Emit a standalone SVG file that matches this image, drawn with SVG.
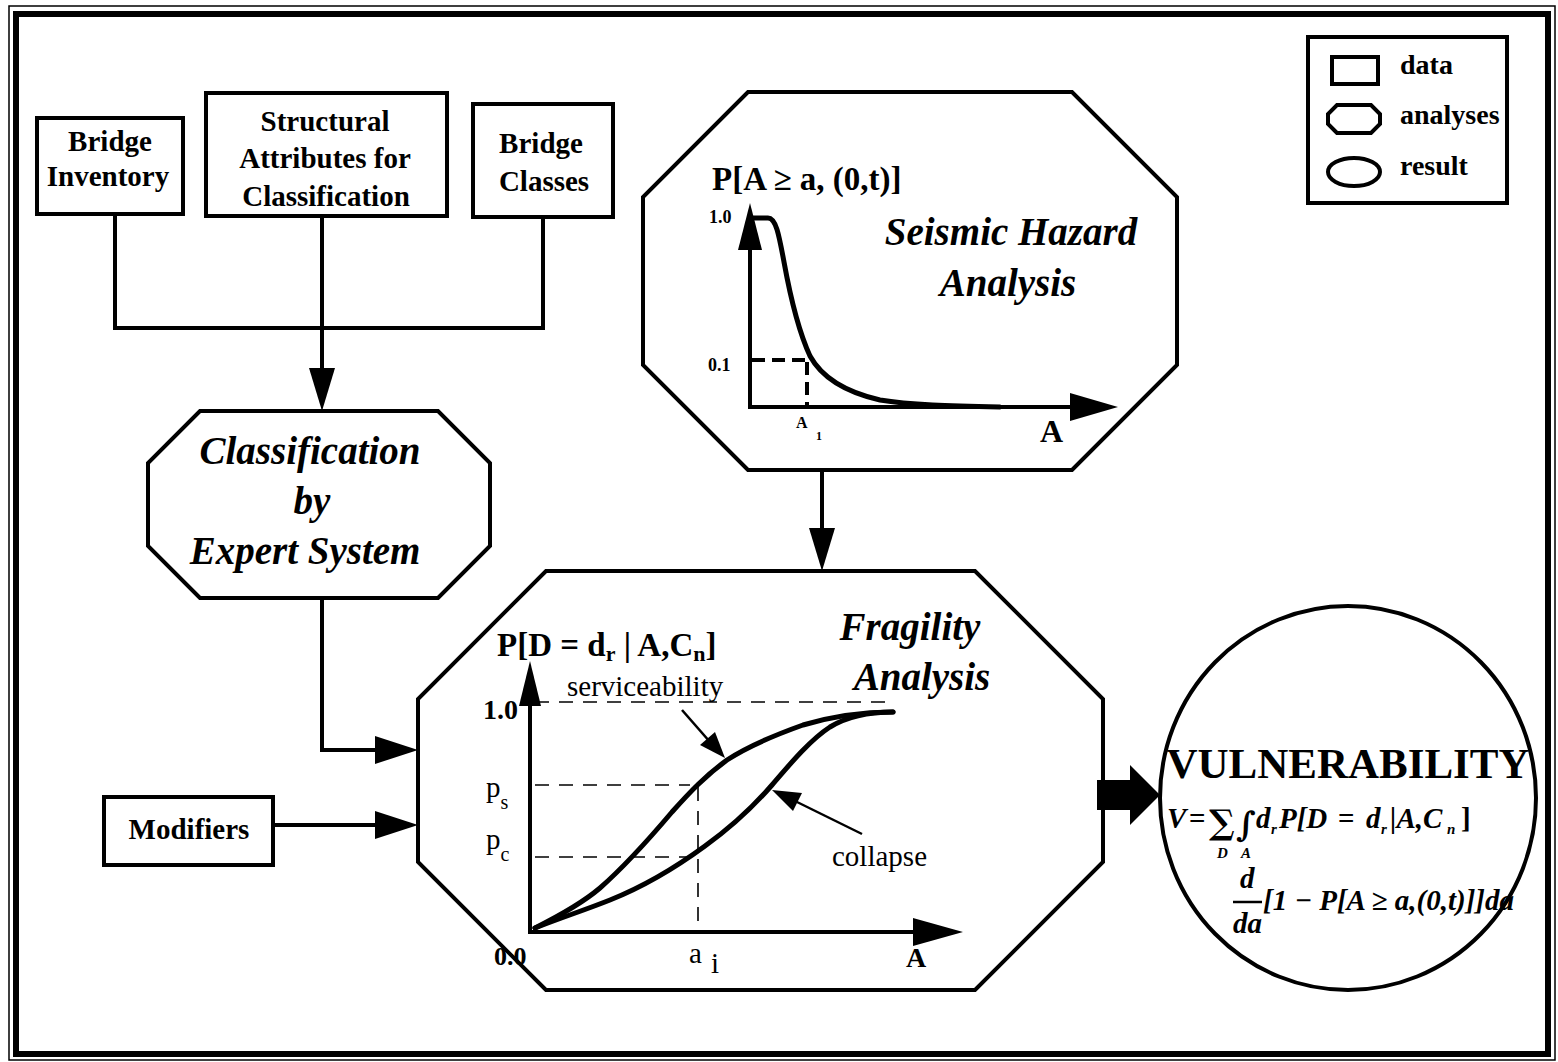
<svg xmlns="http://www.w3.org/2000/svg" width="1558" height="1062" viewBox="0 0 1558 1062">
  <defs>
    <style>
      .frame { fill: none; stroke: #000; }
      .box { fill: #fff; stroke: #000; stroke-width: 4; }
      .wire { fill: none; stroke: #000; stroke-width: 4; }
      .head { fill: #000; stroke: none; }
      .axis { fill: none; stroke: #000; stroke-width: 4; }
      .curve { fill: none; stroke: #000; stroke-width: 5; stroke-linecap: round; stroke-linejoin: round; }
      .dashT { fill: none; stroke: #000; stroke-width: 4; stroke-dasharray: 13 7; }
      .dash { fill: none; stroke: #000; stroke-width: 1.6; stroke-dasharray: 14 10; }
      .pointer { fill: none; stroke: #000; stroke-width: 2.5; }
      text { font-family: "Liberation Serif", "Times New Roman", serif; fill: #000; }
      .lbl { font-size: 29px; font-weight: bold; text-anchor: middle; }
      .leg { font-size: 28px; font-weight: bold; }
      .ttl { font-size: 39px; font-weight: bold; font-style: italic; text-anchor: middle; }
      .ax { font-weight: bold; }
      .rm { font-size: 29px; }
      .fm { font-size: 29px; font-weight: bold; font-style: italic; }
      .op { font-size: 29px; font-weight: bold; }
      .big { font-family: "DejaVu Serif", serif; font-weight: bold; font-size: 34px; }
      .sub { font-size: 15px; font-weight: bold; font-style: italic; }
    </style>
  </defs>

  <!-- double page frame -->
  <rect class="frame" x="9" y="6" width="1546" height="1054" stroke-width="1.5"/>
  <rect class="frame" x="16" y="14" width="1532" height="1040" stroke-width="6"/>

  <!-- legend -->
  <g id="legend">
    <rect class="box" x="1308" y="37" width="199" height="166"/>
    <rect class="box" x="1332" y="57" width="46" height="27"/>
    <path class="box" d="M1337,105 L1371,105 L1380,114 L1380,124 L1371,133 L1337,133 L1328,124 L1328,114 Z"/>
    <ellipse class="box" cx="1354" cy="172" rx="26" ry="14"/>
    <text class="leg" x="1400" y="74">data</text>
    <text class="leg" x="1400" y="124">analyses</text>
    <text class="leg" x="1400" y="175">result</text>
  </g>

  <!-- data inputs -->
  <g id="bridge-inventory">
    <rect class="box" x="37" y="118" width="146" height="96"/>
    <text class="lbl" x="110" y="151">Bridge</text>
    <text class="lbl" x="108" y="186">Inventory</text>
  </g>
  <g id="structural-attributes">
    <rect class="box" x="206" y="93" width="241" height="123"/>
    <text class="lbl" x="325" y="131">Structural</text>
    <text class="lbl" x="325" y="168">Attributes for</text>
    <text class="lbl" x="326" y="206">Classification</text>
  </g>
  <g id="bridge-classes">
    <rect class="box" x="473" y="104" width="140" height="113"/>
    <text class="lbl" x="541" y="153">Bridge</text>
    <text class="lbl" x="544" y="191">Classes</text>
  </g>
  <g id="modifiers">
    <rect class="box" x="104" y="797" width="169" height="68"/>
    <text class="lbl" x="189" y="839">Modifiers</text>
  </g>

  <!-- classification analysis -->
  <g id="classification">
    <path class="box" d="M200,411 L438,411 L490,463 L490,546 L438,598 L200,598 L148,546 L148,463 Z"/>
    <text class="ttl" x="310" y="464">Classification</text>
    <text class="ttl" x="312" y="514">by</text>
    <text class="ttl" x="305" y="564">Expert System</text>
  </g>

  <!-- seismic hazard analysis with hazard curve -->
  <g id="seismic-hazard">
    <path class="box" d="M748,92 L1072,92 L1177,197 L1177,365 L1072,470 L748,470 L643,365 L643,197 Z"/>
    <text class="ttl" x="1011" y="245">Seismic Hazard</text>
    <text class="ttl" x="1008" y="296">Analysis</text>
    <text class="ax" x="712" y="190" font-size="33">P[A ≥ a, (0,t)]</text>
    <line class="axis" x1="750" y1="409" x2="750" y2="245"/>
    <polygon class="head" points="738,250 762,250 750,203"/>
    <line class="axis" x1="748" y1="407" x2="1075" y2="407"/>
    <polygon class="head" points="1070,393 1070,421 1118,407"/>
    <path class="curve" d="M752,218 L768,218 C776,218 779,235 784,262 C790,295 798,330 810,356 C822,378 845,392 880,400 C910,405 950,406 1000,407"/>
    <line class="dashT" x1="752" y1="360" x2="810" y2="360"/>
    <line class="dashT" x1="807" y1="362" x2="807" y2="407"/>
    <text class="ax" x="709" y="223" font-size="18">1.0</text>
    <text class="ax" x="708" y="371" font-size="18">0.1</text>
    <text class="ax" x="796" y="428" font-size="16">A</text>
    <text class="ax" x="816" y="440" font-size="12">1</text>
    <text class="ax" x="1040" y="442" font-size="32">A</text>
  </g>

  <!-- fragility analysis with fragility curves -->
  <g id="fragility">
    <path class="box" d="M546,571 L975,571 L1103,699 L1103,862 L975,990 L546,990 L418,862 L418,699 Z"/>
    <text class="ttl" x="910" y="640">Fragility</text>
    <text class="ttl" x="922" y="690">Analysis</text>
    <text class="ax" x="497" y="656" font-size="33">P[D = d<tspan font-size="22" dy="5">r</tspan><tspan dy="-5"> | A,C</tspan><tspan font-size="22" dy="5">n</tspan><tspan dy="-5">]</tspan></text>
    <line class="dash" x1="535" y1="702" x2="895" y2="702"/>
    <line class="dash" x1="535" y1="785" x2="690" y2="785"/>
    <line class="dash" x1="535" y1="857" x2="690" y2="857"/>
    <line class="dash" x1="698" y1="787" x2="698" y2="930"/>
    <line class="axis" x1="530" y1="934" x2="530" y2="702"/>
    <polygon class="head" points="519,706 541,706 530,661"/>
    <line class="axis" x1="528" y1="932" x2="915" y2="932"/>
    <polygon class="head" points="913,918 913,946 963,932"/>
    <path class="curve" d="M535,928 C555,918 580,905 600,888 C625,866 650,838 672,812 C690,792 705,776 727,760 C750,745 775,735 803,725 C830,717 860,712 893,712"/>
    <path class="curve" d="M535,928 C560,918 585,910 610,900 C640,888 675,868 705,846 C730,828 752,808 772,785 C790,764 810,740 830,727 C848,716 868,712 893,712"/>
    <line class="pointer" x1="682" y1="710" x2="710" y2="742"/>
    <polygon class="head" points="725,758 700,745 715,732"/>
    <line class="pointer" x1="862" y1="834" x2="795" y2="801"/>
    <polygon class="head" points="772,790 802,793 793,811"/>
    <text class="rm" x="567" y="696">serviceability</text>
    <text class="rm" x="832" y="866">collapse</text>
    <text class="ax" x="483" y="719" font-size="28">1.0</text>
    <text class="rm" x="486" y="797" font-size="30">p<tspan font-size="20" dy="12">s</tspan></text>
    <text class="rm" x="486" y="849" font-size="30">p<tspan font-size="20" dy="12">c</tspan></text>
    <text class="ax" x="494" y="965" font-size="26">0.0</text>
    <text class="rm" x="689" y="963" font-size="28">a</text>
    <text class="rm" x="711" y="973" font-size="18">i</text>
    <text class="ax" x="906" y="967" font-size="28">A</text>
  </g>

  <!-- vulnerability result: V = sum over D, integral over A -->
  <g id="vulnerability">
    <ellipse class="box" cx="1348" cy="798" rx="188" ry="192"/>
    <text x="1348" y="778" font-size="43" font-weight="bold" text-anchor="middle">VULNERABILITY</text>
    <text class="fm" x="1167" y="828">V</text>
    <text class="op" x="1189" y="828">=</text>
    <text class="big" x="1209" y="834">∑</text>
    <text class="big" x="1236" y="836">∫</text>
    <text class="fm" x="1256" y="828">d</text>
    <text class="sub" x="1271" y="834">r</text>
    <text class="fm" x="1279" y="828">P[D</text>
    <text class="op" x="1338" y="828">=</text>
    <text class="fm" x="1366" y="828">d</text>
    <text class="sub" x="1381" y="834">r</text>
    <text class="fm" x="1390" y="828">|A,C</text>
    <text class="sub" x="1447" y="834">n</text>
    <text class="op" x="1461" y="828">]</text>
    <text class="sub" x="1217" y="858" font-size="13">D</text>
    <text class="sub" x="1241" y="858" font-size="13">A</text>
    <text class="fm" x="1240" y="888">d</text>
    <line x1="1233" y1="902" x2="1262" y2="902" stroke="#000" stroke-width="2.5"/>
    <text class="fm" x="1233" y="933">da</text>
    <text class="fm" x="1263" y="910">[1 − P[A ≥ a,(0,t)]]da</text>
  </g>

  <!-- connectors -->
  <g id="connectors">
    <polyline class="wire" points="115,214 115,328 543,328 543,217"/>
    <line class="wire" x1="322" y1="216" x2="322" y2="372"/>
    <polygon class="head" points="309,368 335,368 322,411"/>
    <polyline class="wire" points="322,598 322,750 378,750"/>
    <polygon class="head" points="375,736 375,764 418,750"/>
    <line class="wire" x1="273" y1="825" x2="378" y2="825"/>
    <polygon class="head" points="375,811 375,839 418,825"/>
    <line class="wire" x1="822" y1="470" x2="822" y2="530"/>
    <polygon class="head" points="809,528 835,528 822,571"/>
    <polygon class="head" points="1097,780 1130,780 1130,765 1160,795 1130,825 1130,810 1097,810"/>
  </g>
</svg>
